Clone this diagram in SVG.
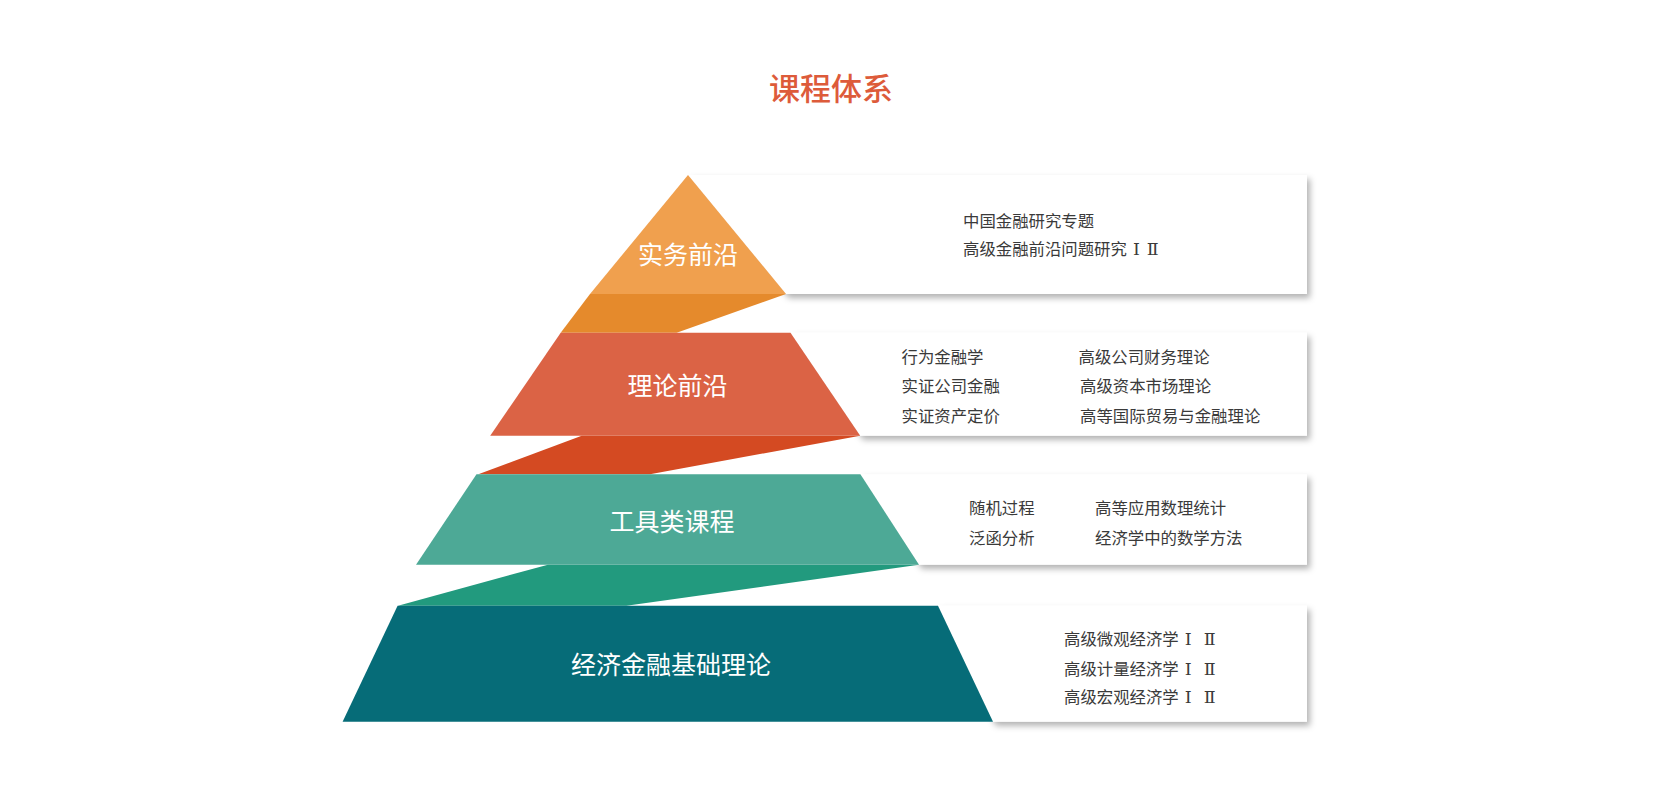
<svg xmlns="http://www.w3.org/2000/svg" width="1660" height="803" viewBox="0 0 1660 803">
  <defs>
    <filter id="shadow" x="-5%" y="-10%" width="115%" height="130%">
      <feDropShadow dx="3" dy="4" stdDeviation="3" flood-color="#000000" flood-opacity="0.3"/>
    </filter>
    <style>
      .title { font-family: "Noto Sans CJK SC", "Noto Sans", sans-serif; font-size: 31px; fill: #DD5B3A; text-anchor: middle; font-weight: 500; }
      .label { font-family: "Noto Sans CJK SC", "Noto Sans", sans-serif; font-size: 25px; fill: #FFFFFF; text-anchor: middle; }
      .item { font-family: "Noto Sans CJK SC", "Noto Sans", sans-serif; font-size: 16.4px; fill: #3A3A3A; }
      .rn { font-family: "DejaVu Serif", "Liberation Serif", serif; font-size: 17.5px; }
      .box { fill: #FFFFFF; filter: url(#shadow); }
    </style>
  </defs>
  <rect x="0" y="0" width="1660" height="803" fill="#FFFFFF"/>
  <text class="title" x="831" y="99.5">课程体系</text>

  <g id="boxes">
    <polygon class="box" points="688,175 1307,175 1307,294 786,294"/>
    <polygon class="box" points="790.5,332.7 1307,332.7 1307,435.7 860.2,435.7"/>
    <polygon class="box" points="860.4,474.3 1307,474.3 1307,564.7 919,564.7"/>
    <polygon class="box" points="938,605.7 1307,605.7 1307,721.7 993,721.7"/>
  </g>

  <g id="connectors">
    <polygon fill="#E58A2C" points="590,294 786,294 676.7,332.7 560.7,332.7"/>
    <polygon fill="#D44A22" points="581.7,435.7 860.2,435.7 650,474.3 478.3,474.3"/>
    <polygon fill="#229A7E" points="547.9,564.7 919,564.7 626.4,605.7 398,605.7"/>
  </g>

  <g id="tier-1">
    <polygon fill="#F0A04E" points="688,175 786,294 590,294"/>
    <text class="label" x="688" y="263.5">实务前沿</text>
    <text class="item" x="963" y="227">中国金融研究专题</text>
    <text class="item" x="963" y="254.5">高级金融前沿问题研究<tspan class="rn" dx="6">Ⅰ</tspan><tspan class="rn" dx="7">Ⅱ</tspan></text>
  </g>

  <g id="tier-2">
    <polygon fill="#DB6345" points="560.7,332.7 790.5,332.7 860.2,435.7 490.2,435.7"/>
    <text class="label" x="677.5" y="394.5">理论前沿</text>
    <text class="item" x="901.5" y="363">行为金融学</text>
    <text class="item" x="901.5" y="392">实证公司金融</text>
    <text class="item" x="901.5" y="421.5">实证资产定价</text>
    <text class="item" x="1078.5" y="363">高级公司财务理论</text>
    <text class="item" x="1080" y="392">高级资本市场理论</text>
    <text class="item" x="1080" y="421.5">高等国际贸易与金融理论</text>
  </g>

  <g id="tier-3">
    <polygon fill="#4DA996" points="476.5,474.3 860.4,474.3 919,564.7 416,564.7"/>
    <text class="label" x="672" y="530.5">工具类课程</text>
    <text class="item" x="969" y="513.5">随机过程</text>
    <text class="item" x="969" y="543.5">泛函分析</text>
    <text class="item" x="1095" y="513.5">高等应用数理统计</text>
    <text class="item" x="1095" y="543.5">经济学中的数学方法</text>
  </g>

  <g id="tier-4">
    <polygon fill="#066C78" points="397.6,605.7 938,605.7 993,721.7 342.6,721.7"/>
    <text class="label" x="671" y="673.5">经济金融基础理论</text>
    <text class="item" x="1064" y="645.3">高级微观经济学<tspan class="rn" dx="6">Ⅰ</tspan><tspan class="rn" dx="12">Ⅱ</tspan></text>
    <text class="item" x="1064" y="675">高级计量经济学<tspan class="rn" dx="6">Ⅰ</tspan><tspan class="rn" dx="12">Ⅱ</tspan></text>
    <text class="item" x="1064" y="703.3">高级宏观经济学<tspan class="rn" dx="6">Ⅰ</tspan><tspan class="rn" dx="12">Ⅱ</tspan></text>
  </g>
</svg>
